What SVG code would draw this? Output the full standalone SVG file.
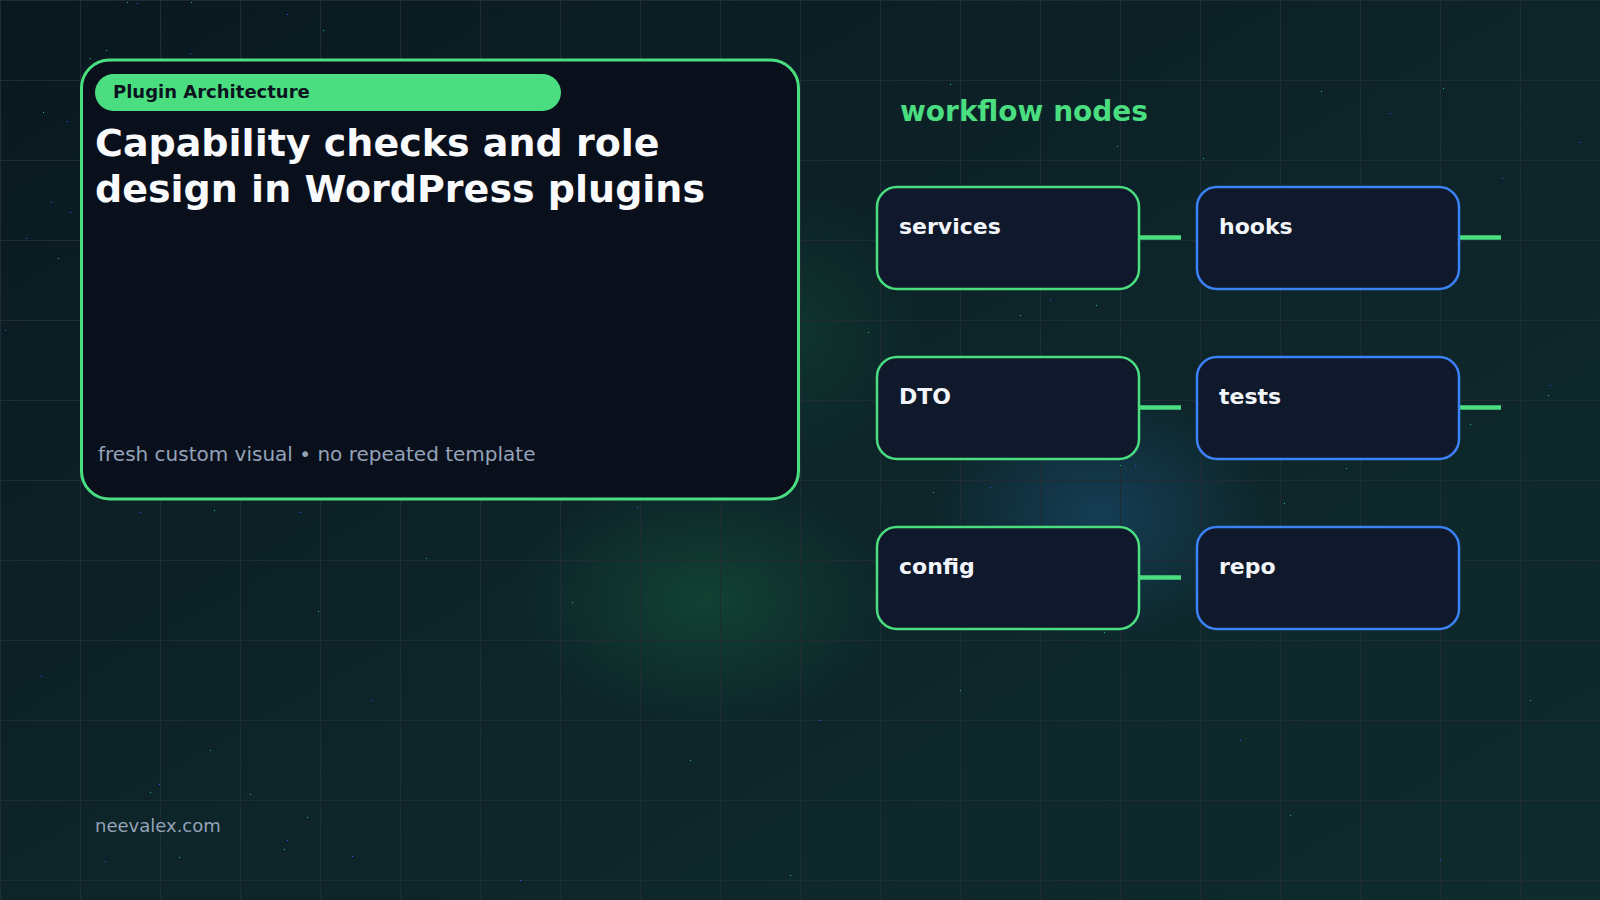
<svg xmlns="http://www.w3.org/2000/svg" width="1600" height="900" viewBox="0 0 1600 900">
  <defs>
    <linearGradient id="bg" x1="0" y1="0" x2="1" y2="1">
      <stop offset="0" stop-color="#0a1820"/>
      <stop offset="0.5" stop-color="#0d2429"/>
      <stop offset="1" stop-color="#0f2b2c"/>
    </linearGradient>
    <radialGradient id="glowG" cx="0.5" cy="0.5" r="0.5">
      <stop offset="0" stop-color="#22c55e" stop-opacity="0.18"/>
      <stop offset="1" stop-color="#22c55e" stop-opacity="0"/>
    </radialGradient>
    <radialGradient id="glowB" cx="0.5" cy="0.5" r="0.5">
      <stop offset="0" stop-color="#1e5a8a" stop-opacity="0.45"/>
      <stop offset="1" stop-color="#1e5a8a" stop-opacity="0"/>
    </radialGradient>
    <pattern id="grid" width="80" height="80" patternUnits="userSpaceOnUse">
      <path d="M0 0.5H80M0.5 0V80" fill="none" stroke="#1f2b35" stroke-width="1"/>
    </pattern>
    <style>
      .node rect { fill: #10182b; stroke-width: 2.5; }
      .g rect { stroke: #4ade80; }
      .b rect { stroke: #3b82f6; }
      .node text { font-family: "DejaVu Sans", sans-serif; font-weight: bold; font-size: 22px; fill: #f1f5f9; }
      .conn line { stroke: #4ade80; stroke-width: 4.5; }
      .star-g { fill: #22c55e; }
      .star-b { fill: #2563eb; }
    </style>
  </defs>

  <rect width="1600" height="900" fill="url(#bg)"/>
  <ellipse cx="705" cy="600" rx="190" ry="125" fill="url(#glowG)"/>
  <ellipse cx="800" cy="330" rx="120" ry="140" fill="url(#glowG)" opacity="0.6"/>
  <ellipse cx="1100" cy="515" rx="170" ry="130" fill="url(#glowB)"/>
  <rect width="1600" height="900" fill="url(#grid)"/>

  <g id="stars">
    <rect class="star-g" x="127" y="2" width="1" height="1"/>
    <rect class="star-b" x="137" y="3" width="1" height="1"/>
    <rect class="star-g" x="191" y="2" width="1" height="1"/>
    <rect class="star-b" x="287" y="14" width="1" height="1"/>
    <rect class="star-g" x="323" y="30" width="1" height="1"/>
    <rect class="star-g" x="90" y="58" width="1" height="1"/>
    <rect class="star-g" x="106" y="50" width="1" height="1"/>
    <rect class="star-b" x="190" y="53" width="1" height="1"/>
    <rect class="star-g" x="43" y="112" width="1" height="1"/>
    <rect class="star-b" x="67" y="121" width="1" height="1"/>
    <rect class="star-b" x="51" y="202" width="1" height="1"/>
    <rect class="star-b" x="70" y="212" width="1" height="1"/>
    <rect class="star-b" x="26" y="238" width="1" height="1"/>
    <rect class="star-g" x="58" y="258" width="1" height="1"/>
    <rect class="star-b" x="5" y="330" width="1" height="1"/>
    <rect class="star-g" x="950" y="84" width="1" height="1"/>
    <rect class="star-b" x="1008" y="110" width="1" height="1"/>
    <rect class="star-g" x="1117" y="146" width="1" height="1"/>
    <rect class="star-g" x="1203" y="158" width="1" height="1"/>
    <rect class="star-g" x="1321" y="91" width="1" height="1"/>
    <rect class="star-b" x="1390" y="113" width="1" height="1"/>
    <rect class="star-g" x="1443" y="88" width="1" height="1"/>
    <rect class="star-b" x="1580" y="142" width="1" height="1"/>
    <rect class="star-g" x="1094" y="197" width="1" height="1"/>
    <rect class="star-b" x="1502" y="178" width="1" height="1"/>
    <rect class="star-g" x="1020" y="315" width="1" height="1"/>
    <rect class="star-g" x="1096" y="305" width="1" height="1"/>
    <rect class="star-b" x="1050" y="300" width="1" height="1"/>
    <rect class="star-g" x="868" y="332" width="1" height="1"/>
    <rect class="star-g" x="1548" y="395" width="1" height="1"/>
    <rect class="star-b" x="1550" y="385" width="1" height="1"/>
    <rect class="star-g" x="1120" y="465" width="1" height="1"/>
    <rect class="star-b" x="1135" y="465" width="1" height="1"/>
    <rect class="star-g" x="1346" y="468" width="1" height="1"/>
    <rect class="star-g" x="1470" y="424" width="1" height="1"/>
    <rect class="star-g" x="933" y="492" width="1" height="1"/>
    <rect class="star-b" x="990" y="487" width="1" height="1"/>
    <rect class="star-g" x="1284" y="503" width="1" height="1"/>
    <rect class="star-g" x="1104" y="632" width="1" height="1"/>
    <rect class="star-b" x="1075" y="620" width="1" height="1"/>
    <rect class="star-g" x="214" y="510" width="1" height="1"/>
    <rect class="star-b" x="140" y="512" width="1" height="1"/>
    <rect class="star-b" x="300" y="512" width="1" height="1"/>
    <rect class="star-g" x="426" y="558" width="1" height="1"/>
    <rect class="star-b" x="637" y="507" width="1" height="1"/>
    <rect class="star-g" x="572" y="602" width="1" height="1"/>
    <rect class="star-b" x="372" y="700" width="1" height="1"/>
    <rect class="star-g" x="318" y="611" width="1" height="1"/>
    <rect class="star-b" x="41" y="676" width="1" height="1"/>
    <rect class="star-g" x="210" y="750" width="1" height="1"/>
    <rect class="star-b" x="159" y="784" width="1" height="1"/>
    <rect class="star-g" x="150" y="792" width="1" height="1"/>
    <rect class="star-g" x="250" y="794" width="1" height="1"/>
    <rect class="star-g" x="307" y="817" width="1" height="1"/>
    <rect class="star-b" x="287" y="840" width="1" height="1"/>
    <rect class="star-g" x="284" y="849" width="1" height="1"/>
    <rect class="star-b" x="352" y="856" width="1" height="1"/>
    <rect class="star-b" x="105" y="861" width="1" height="1"/>
    <rect class="star-g" x="179" y="857" width="1" height="1"/>
    <rect class="star-g" x="690" y="760" width="1" height="1"/>
    <rect class="star-b" x="820" y="720" width="1" height="1"/>
    <rect class="star-g" x="960" y="690" width="1" height="1"/>
    <rect class="star-b" x="1240" y="740" width="1" height="1"/>
    <rect class="star-g" x="1290" y="815" width="1" height="1"/>
    <rect class="star-b" x="1440" y="860" width="1" height="1"/>
    <rect class="star-g" x="1530" y="700" width="1" height="1"/>
    <rect class="star-b" x="520" y="880" width="1" height="1"/>
    <rect class="star-g" x="790" y="875" width="1" height="1"/>
  </g>

  <g id="main-card">
    <rect x="81.5" y="60" width="717" height="439" rx="28" fill="#0a0f1c" stroke="#4ade80" stroke-width="3"/>
    <rect x="95" y="74" width="466" height="37" rx="18.5" fill="#4ade80"/>
    <text x="113" y="97.5" font-family="DejaVu Sans, sans-serif" font-weight="bold" font-size="18" fill="#0b1320">Plugin Architecture</text>
    <text font-family="DejaVu Sans, sans-serif" font-weight="bold" font-size="38" fill="#f8fafc">
      <tspan x="95" y="156">Capability checks and role</tspan>
      <tspan x="95" y="202">design in WordPress plugins</tspan>
    </text>
    <text x="98" y="461" font-family="DejaVu Sans, sans-serif" font-size="20" fill="#94a3b8">fresh custom visual • no repeated template</text>
  </g>

  <text id="section-title" x="900" y="121" font-family="DejaVu Sans, sans-serif" font-weight="bold" font-size="28" fill="#4ade80">workflow nodes</text>

  <g id="connectors" class="conn">
    <line x1="1140" y1="237.5" x2="1181" y2="237.5"/>
    <line x1="1460" y1="237.5" x2="1501" y2="237.5"/>
    <line x1="1140" y1="407.5" x2="1181" y2="407.5"/>
    <line x1="1460" y1="407.5" x2="1501" y2="407.5"/>
    <line x1="1140" y1="577.5" x2="1181" y2="577.5"/>
  </g>

  <g id="node-services" class="node g">
    <rect x="877" y="187" width="262" height="102" rx="20"/>
    <text x="899" y="234">services</text>
  </g>
  <g id="node-hooks" class="node b">
    <rect x="1197" y="187" width="262" height="102" rx="20"/>
    <text x="1219" y="234">hooks</text>
  </g>
  <g id="node-dto" class="node g">
    <rect x="877" y="357" width="262" height="102" rx="20"/>
    <text x="899" y="404">DTO</text>
  </g>
  <g id="node-tests" class="node b">
    <rect x="1197" y="357" width="262" height="102" rx="20"/>
    <text x="1219" y="404">tests</text>
  </g>
  <g id="node-config" class="node g">
    <rect x="877" y="527" width="262" height="102" rx="20"/>
    <text x="899" y="574">config</text>
  </g>
  <g id="node-repo" class="node b">
    <rect x="1197" y="527" width="262" height="102" rx="20"/>
    <text x="1219" y="574">repo</text>
  </g>

  <text id="footer" x="95" y="832" font-family="DejaVu Sans, sans-serif" font-size="18" fill="#94a3b8">neevalex.com</text>
</svg>
